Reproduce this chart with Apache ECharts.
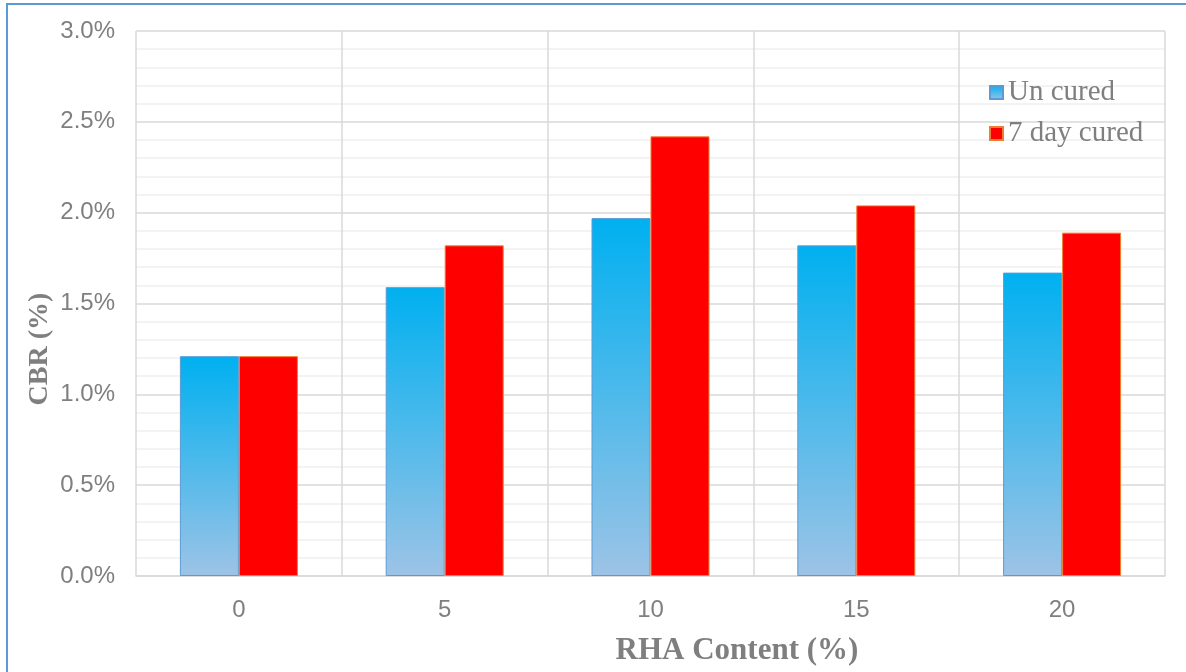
<!DOCTYPE html>
<html>
<head>
<meta charset="utf-8">
<script src="https://cdn.jsdelivr.net/npm/echarts@6/dist/echarts.min.js"></script>
<style>
  html, body { margin: 0; padding: 0; background: #fff; }
  #frame { position: absolute; left: 0; top: 0; width: 1186px; height: 672px; }
  #edgeTop { position: absolute; left: 6px; top: 3px; width: 1180px; height: 2px; background: #5b9bd5; }
  #edgeLeft { position: absolute; left: 6px; top: 3px; width: 2px; height: 669px; background: #5b9bd5; }
  #chart { position: absolute; left: 0; top: 0; width: 1186px; height: 672px; }
</style>
</head>
<body>
<div id="frame">
  <div id="chart"></div>
  <div id="edgeTop"></div>
  <div id="edgeLeft"></div>
</div>
<script>
// RHA content (%) categories and CBR values (%)
const categories = ['0', '5', '10', '15', '20'];
const uncured = [1.21, 1.59, 1.97, 1.82, 1.67];
const cured7 = [1.21, 1.82, 2.42, 2.04, 1.89];
const seriesNames = ['Un cured', '7 day cured'];
const xTitle = 'RHA Content (%)';
const yTitle = 'CBR (%)';

const gray = '#7f7f7f';
const titleFont = 'Liberation Serif';
const chart = echarts.init(document.getElementById('chart'), null, { renderer: 'canvas' });

chart.setOption({
  animation: false,
  backgroundColor: '#ffffff',
  grid: { left: 136, right: 21, top: 31, bottom: 96, containLabel: false },
  legend: {
    orient: 'vertical',
    left: 984,
    top: 73,
    itemWidth: 13,
    itemHeight: 13,
    itemGap: 12,
    icon: 'rect',
    textStyle: { fontFamily: titleFont, fontSize: 29, lineHeight: 29, color: gray, padding: [0, 0, 0, 0] },
    data: seriesNames
  },
  graphic: [
    {
      type: 'text', x: 737, y: 651,
      style: { text: xTitle, fontFamily: titleFont, fontSize: 31, fontWeight: 'bold', fill: gray,
               x: 0, y: 0, align: 'center', verticalAlign: 'middle' }
    },
    {
      type: 'text', x: 40, y: 349, rotation: Math.PI / 2,
      style: { text: yTitle, fontFamily: titleFont, fontSize: 28, fontWeight: 'bold', fill: gray,
               x: 0, y: 0, align: 'center', verticalAlign: 'middle' }
    }
  ],
  xAxis: {
    type: 'category',
    data: categories,
    axisLine: { show: true, lineStyle: { color: '#d9d9d9', width: 1.5 } },
    axisTick: { show: false },
    axisLabel: { fontFamily: 'Liberation Sans', fontSize: 24, color: gray, margin: 22 },
    splitLine: { show: true, lineStyle: { color: '#d9d9d9', width: 1.5 } }
  },
  yAxis: {
    type: 'value',
    min: 0,
    max: 3,
    interval: 0.5,
    axisLine: { show: false },
    axisTick: { show: false },
    axisLabel: {
      fontFamily: 'Liberation Sans', fontSize: 24, color: gray, margin: 21,
      formatter: v => v.toFixed(1) + '%'
    },
    splitLine: { show: true, lineStyle: { color: '#d9d9d9', width: 1.5 } },
    minorTick: { show: false, splitNumber: 5 },
    minorSplitLine: { show: true, lineStyle: { color: '#f0f0f0', width: 1.5 } }
  },
  series: [
    {
      name: seriesNames[0],
      type: 'bar',
      data: uncured,
      barWidth: 59,
      barGap: '0%',
      itemStyle: {
        color: new echarts.graphic.LinearGradient(0, 0, 0, 1, [
          { offset: 0, color: '#00b0f0' },
          { offset: 1, color: '#9dc3e6' }
        ]),
        borderColor: '#5b9bd5',
        borderWidth: 1
      }
    },
    {
      name: seriesNames[1],
      type: 'bar',
      data: cured7,
      barWidth: 59,
      barGap: '0%',
      itemStyle: { color: '#ff0000', borderColor: '#ed7d31', borderWidth: 1 }
    }
  ]
});
</script>
</body>
</html>
